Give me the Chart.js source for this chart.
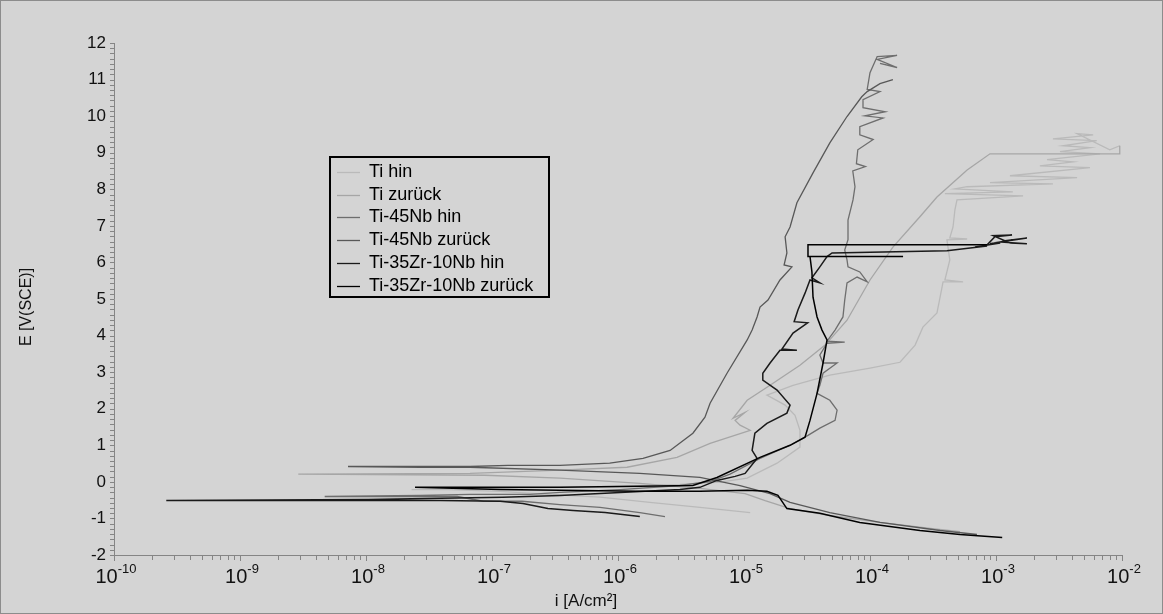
<!DOCTYPE html>
<html>
<head>
<meta charset="utf-8">
<script src="https://cdn.jsdelivr.net/npm/chart.js@4.4.0/dist/chart.umd.min.js"></script>
<style>
  html, body { margin: 0; padding: 0; background: #d4d4d4; }
  #wrap { width: 1163px; height: 614px; }
</style>
</head>
<body>
<div id="wrap"><canvas id="chart" width="1163" height="614"></canvas></div>
<script>
// [i in A/cm², E in V(SCE)], in scan order
const tiHin = [[1.12e-5,-0.84],[4.47e-6,-0.70],[1.79e-6,-0.56],[7.2e-7,-0.42],[2.78e-7,-0.34],[1.16e-7,-0.26],[4.6e-8,-0.21],[2.3e-8,-0.21],[1.16e-7,-0.18],[3.46e-7,-0.15],[1.04e-6,-0.12],[3.1e-6,-0.07],[6.46e-6,-0.01],[1.06e-5,0.10],[1.83e-5,0.51],[2.78e-5,0.95],[2.78e-5,1.41],[2.54e-5,1.82],[2.12e-5,2.10],[1.52e-5,2.37],[2.45e-5,2.64],[4.8e-5,2.92],[1.0e-4,3.11],[1.73e-4,3.27],[2.28e-4,3.74],[2.63e-4,4.23],[3.4e-4,4.62],[3.6e-4,5.05],[3.8e-4,5.47],[5.48e-4,5.47],[3.93e-4,5.52],[4.3e-4,6.07],[4.08e-4,6.62],[5.9e-4,6.64],[4.3e-4,6.67],[4.56e-4,6.97],[4.72e-4,7.44],[4.9e-4,7.71],[1.64e-3,7.82],[3.93e-4,7.88],[1.36e-3,7.93],[4.72e-4,8.01],[5.9e-4,8.07],[2.83e-3,8.15],[8.96e-4,8.18],[4.4e-3,8.32],[1.29e-3,8.37],[5.57e-3,8.59],[2.23e-3,8.64],[4.08e-3,8.75],[2.54e-3,8.81],[6.69e-3,8.97],[3.22e-3,9.03],[5.57e-3,9.14],[3.4e-3,9.19],[6.3e-3,9.33],[2.83e-3,9.38],[5.9e-3,9.49],[4.4e-3,9.52],[8.0e-3,9.08],[9.6e-3,9.19]];
const tiZurueck = [[9.6e-3,9.19],[9.6e-3,8.97],[8.96e-4,8.97],[5.9e-4,8.53],[3.4e-4,7.79],[2.49e-4,7.25],[1.52e-4,6.42],[1.0e-4,5.52],[6.57e-5,4.42],[4.4e-5,3.74],[2.78e-5,3.19],[1.61e-5,2.64],[1.06e-5,2.23],[8.19e-6,1.74],[1.02e-5,1.90],[8.5e-6,1.68],[9.3e-6,1.55],[1.12e-5,1.41],[5.38e-6,1.05],[2.94e-6,0.67],[1.18e-6,0.40],[3.46e-7,0.32],[6.7e-8,0.23],[2.9e-9,0.21],[8.8e-8,0.18],[3.46e-7,0.10],[1.49e-6,-0.04],[4.47e-6,-0.18],[1.02e-5,-0.32],[1.47e-5,-0.51],[2.32e-5,-0.73],[4.8e-5,-0.92],[1.2e-4,-1.11],[3.0e-4,-1.27],[5.18e-4,-1.36]];
const nbHin = [[2.36e-6,-0.95],[1.49e-6,-0.84],[7.2e-7,-0.70],[3.46e-7,-0.62],[1.73e-7,-0.53],[8.5e-8,-0.53],[5.3e-8,-0.40],[4.7e-9,-0.40],[2.7e-8,-0.37],[6.7e-8,-0.34],[2.0e-7,-0.34],[3.46e-7,-0.29],[1.04e-6,-0.21],[3.1e-6,-0.10],[5.38e-6,0.01],[7.75e-6,0.21],[1.34e-5,0.64],[2.32e-5,1.00],[3.22e-5,1.27],[4.0e-5,1.47],[5.28e-5,1.68],[5.48e-5,1.96],[4.8e-5,2.23],[3.8e-5,2.42],[4.0e-5,2.64],[4.24e-5,2.97],[5.48e-5,3.25],[4.24e-5,3.25],[4.0e-5,3.47],[4.56e-5,3.79],[6.3e-5,3.82],[4.56e-5,3.85],[5.28e-5,4.15],[6.1e-5,4.51],[6.3e-5,4.97],[6.57e-5,5.44],[7.9e-5,5.60],[9.5e-5,5.47],[8.3e-5,5.74],[6.69e-5,5.88],[6.57e-5,6.07],[6.3e-5,6.34],[6.69e-5,6.62],[6.69e-5,7.16],[7.33e-5,7.71],[7.6e-5,8.07],[7.3e-5,8.50],[9.2e-5,8.62],[7.8e-5,8.70],[8.0e-5,9.08],[1.06e-4,9.36],[8.3e-5,9.49],[8.3e-5,9.71],[1.27e-4,9.95],[9.1e-5,10.01],[1.32e-4,10.12],[8.8e-5,10.23],[8.8e-5,10.45],[1.2e-4,10.67],[9.5e-5,10.73],[1.0e-4,11.19],[1.14e-4,11.63],[1.64e-4,11.66],[1.14e-4,11.55],[1.64e-4,11.33],[1.2e-4,11.44]];
const nbZurueck = [[1.52e-4,11.00],[1.2e-4,10.89],[9.5e-5,10.67],[8.6e-5,10.53],[6.57e-5,9.99],[4.8e-5,9.27],[3.53e-5,8.45],[2.63e-5,7.63],[2.32e-5,6.97],[2.12e-5,6.70],[2.19e-5,6.26],[2.08e-5,5.93],[2.4e-5,5.88],[1.93e-5,5.52],[1.55e-5,4.97],[1.34e-5,4.78],[1.27e-5,4.51],[1.16e-5,4.15],[1.06e-5,3.88],[7.33e-6,2.97],[5.38e-6,2.15],[4.9e-6,1.77],[3.93e-6,1.33],[2.59e-6,0.86],[1.58e-6,0.64],[8.6e-7,0.51],[3.46e-7,0.45],[1.34e-7,0.45],[6.7e-8,0.42],[7.2e-9,0.42],[2.7e-8,0.40],[6.7e-8,0.40],[3.46e-7,0.32],[1.49e-6,0.23],[4.47e-6,0.12],[9.3e-6,-0.10],[1.61e-5,-0.32],[2.32e-5,-0.56],[4.8e-5,-0.84],[1.2e-4,-1.11],[3.6e-4,-1.33],[7.06e-4,-1.44]];
const zrHin = [[1.49e-6,-0.95],[7.9e-7,-0.84],[4.4e-7,-0.78],[2.78e-7,-0.73],[1.76e-7,-0.59],[1.16e-7,-0.53],[3.9e-8,-0.51],[1.04e-8,-0.51],[2.6e-10,-0.51],[1.04e-8,-0.48],[3.9e-8,-0.45],[1.22e-7,-0.42],[3.46e-7,-0.37],[1.04e-6,-0.29],[3.1e-6,-0.21],[4.47e-6,-0.15],[6.1e-6,0.04],[8.5e-6,0.15],[1.02e-5,0.23],[1.27e-5,0.64],[1.16e-5,0.86],[1.22e-5,1.33],[1.52e-5,1.60],[2.19e-5,1.88],[2.32e-5,2.10],[1.83e-5,2.51],[1.41e-5,2.78],[1.41e-5,2.97],[1.61e-5,3.25],[1.93e-5,3.60],[2.63e-5,3.60],[2.0e-5,3.63],[2.45e-5,4.07],[3.2e-5,4.35],[2.5e-5,4.38],[2.68e-5,4.70],[3.05e-5,5.16],[3.34e-5,5.52],[4.0e-5,5.44],[3.46e-5,5.58],[4.0e-5,5.88],[4.56e-5,6.16],[5.0e-5,6.26],[4.08e-4,6.32],[8.5e-4,6.45],[6.81e-4,6.42],[1.08e-3,6.53],[8.96e-4,6.51],[1.36e-3,6.62],[1.18e-3,6.59],[1.76e-3,6.67],[1.08e-3,6.56],[1.76e-3,6.51],[1.29e-3,6.53],[9.5e-4,6.73],[1.34e-3,6.75],[9.8e-4,6.70],[8.5e-4,6.48]];
const zrZurueck = [[8.5e-4,6.48],[3.22e-5,6.48],[3.22e-5,6.16],[1.83e-4,6.16],[3.34e-5,6.16],[3.46e-5,5.74],[3.53e-5,5.05],[3.8e-5,4.51],[4.16e-5,4.15],[4.56e-5,3.88],[4.24e-5,3.25],[3.8e-5,2.42],[3.34e-5,1.68],[3.05e-5,1.22],[2.32e-5,1.00],[1.34e-5,0.67],[6.1e-6,0.12],[3.93e-6,-0.10],[1.49e-6,-0.12],[3.46e-7,-0.15],[2.45e-8,-0.15],[1.16e-7,-0.21],[3.46e-7,-0.23],[1.49e-6,-0.26],[4.47e-6,-0.26],[1.06e-5,-0.23],[1.52e-5,-0.26],[1.86e-5,-0.37],[2.19e-5,-0.73],[4.0e-5,-0.86],[8.3e-5,-1.11],[2.49e-4,-1.33],[5.18e-4,-1.44],[1.12e-3,-1.52]];

const seriesNames = ['Ti hin', 'Ti zurück', 'Ti-45Nb hin', 'Ti-45Nb zurück', 'Ti-35Zr-10Nb hin', 'Ti-35Zr-10Nb zurück'];
const seriesData = [tiHin, tiZurueck, nbHin, nbZurueck, zrHin, zrZurueck];
const seriesColors = ['#bababa', '#a6a6a6', '#6e6e6e', '#585858', '#1a1a1a', '#000000'];
const decadeExps = [-10, -9, -8, -7, -6, -5, -4, -3, -2];

const FONT = '"Liberation Sans", Arial, sans-serif';
Chart.defaults.font.family = FONT;

const decorations = {
    id: 'decorations',
    beforeDraw(chart) {
        const c = chart.ctx;
        c.save();
        c.fillStyle = '#d4d4d4';
        c.fillRect(0, 0, chart.width, chart.height);
        c.strokeStyle = '#8c8c8c';
        c.lineWidth = 1;
        c.strokeRect(0.5, 0.5, chart.width - 1, chart.height - 1);
        c.restore();
    },
    afterDraw(chart) {
        const c = chart.ctx;
        const xs = chart.scales.x, ys = chart.scales.y;
        const a = chart.chartArea;
        c.save();

        // tick marks
        c.strokeStyle = '#858585';
        c.lineWidth = 1;
        c.beginPath();
        for (let k = 0; k <= 14 * 7; k++) {
            const py = Math.round(ys.getPixelForValue(-2 + k / 7)) + 0.5;
            c.moveTo(a.left - 4, py);
            c.lineTo(a.left, py);
        }
        decadeExps.forEach(e => {
            for (let m = 1; m < 10; m++) {
                if (e === -2 && m > 1) break;
                const px = Math.round(xs.getPixelForValue(m * Math.pow(10, e))) + 0.5;
                c.moveTo(px, a.bottom);
                c.lineTo(px, a.bottom + (m === 1 ? 6 : 5));
            }
        });
        c.stroke();

        // decade labels 10^n
        c.fillStyle = '#111';
        c.textBaseline = 'alphabetic';
        c.textAlign = 'left';
        decadeExps.forEach(e => {
            const px = xs.getPixelForValue(Math.pow(10, e));
            c.font = '20px ' + FONT;
            const w1 = c.measureText('10').width;
            c.font = '13px ' + FONT;
            const sup = String(e);
            const w2 = c.measureText(sup).width;
            const x0 = px - (w1 + w2) / 2 + 2;
            c.font = '20px ' + FONT;
            c.fillText('10', x0, 583);
            c.font = '13px ' + FONT;
            c.fillText(sup, x0 + w1, 573);
        });

        // axis titles
        c.font = '17px ' + FONT;
        c.textAlign = 'center';
        c.textBaseline = 'middle';
        c.fillText('i [A/cm²]', 586, 601);
        c.save();
        c.translate(27, 307);
        c.rotate(-Math.PI / 2);
        c.font = '16px ' + FONT;
        c.fillText('E [V(SCE)]', 0, 0);
        c.restore();

        // legend box
        c.strokeStyle = '#000';
        c.lineWidth = 2;
        c.strokeRect(330, 157, 219, 140);
        c.font = '18px ' + FONT;
        c.textAlign = 'left';
        c.textBaseline = 'middle';
        chart.data.datasets.forEach((ds, k) => {
            const y = Math.round(172 + k * 22.7) + 0.5;
            c.strokeStyle = ds.borderColor;
            c.lineWidth = 1.3;
            c.beginPath();
            c.moveTo(337, y);
            c.lineTo(360, y);
            c.stroke();
            c.fillStyle = '#000';
            c.fillText(ds.label, 369, y);
        });
        c.restore();
    }
};

const datasets = seriesData.map((pts, k) => ({
    label: seriesNames[k],
    data: pts.map(p => ({ x: p[0], y: p[1] })),
    borderColor: seriesColors[k],
    borderWidth: k >= 4 ? 1.5 : 1.3,
    pointRadius: 0,
    showLine: true,
    tension: 0,
    order: 6 - k
}));

new Chart(document.getElementById('chart'), {
    type: 'scatter',
    data: { datasets },
    options: {
        responsive: false,
        animation: false,
        devicePixelRatio: 1,
        layout: { padding: { top: 43, right: 41, left: 0, bottom: 0 } },
        plugins: { legend: { display: false }, tooltip: { enabled: false } },
        scales: {
            x: {
                type: 'logarithmic',
                min: 1e-10,
                max: 1e-2,
                grid: { display: false },
                border: { color: '#858585', width: 1 },
                ticks: { display: false },
                afterFit: s => { s.height = 59; }
            },
            y: {
                type: 'linear',
                min: -2,
                max: 12,
                grid: { display: false, drawTicks: true, tickLength: 4 },
                border: { color: '#858585', width: 1 },
                ticks: { stepSize: 1, padding: 4, color: '#111', font: { size: 17 } },
                afterFit: s => { s.width = 114; }
            }
        }
    },
    plugins: [decorations]
});
</script>
</body>
</html>
